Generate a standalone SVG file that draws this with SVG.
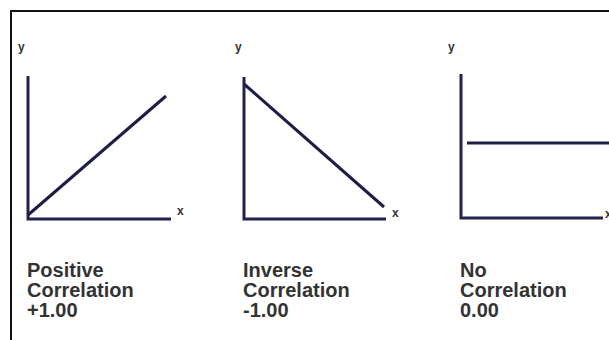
<svg xmlns="http://www.w3.org/2000/svg" width="609" height="340" viewBox="0 0 609 340">
<style>
.ax{stroke:#23234d;stroke-width:3;fill:none;stroke-linecap:butt}
.tr{stroke:#1d1d45;stroke-width:3;fill:none}
.lab{font-family:"Liberation Sans",Arial,sans-serif;font-weight:bold;font-size:12px;fill:#333333}
.cap{font-family:"Liberation Sans",Arial,sans-serif;font-weight:bold;font-size:20px;fill:#333333}
</style>
<rect x="0" y="0" width="609" height="340" fill="#ffffff"/>
<g id="frame">
<path d="M11 340 V11 H609" stroke="#111" stroke-width="2" fill="none"/>
</g>
<g id="positive">
<text class="lab" x="18" y="51">y</text>
<path class="ax" d="M28 76 V219 H171"/>
<path class="tr" d="M28 215 L166 96"/>
<text class="lab" x="177" y="215">x</text>
<text class="cap" x="27" y="277">Positive</text>
<text class="cap" x="27" y="297">Correlation</text>
<text class="cap" x="27" y="317">+1.00</text>
</g>
<g id="inverse">
<text class="lab" x="235" y="51">y</text>
<path class="ax" d="M244 77 V219 H386"/>
<path class="tr" d="M244 84 L384 207"/>
<text class="lab" x="392" y="217">x</text>
<text class="cap" x="243" y="277">Inverse</text>
<text class="cap" x="243" y="297">Correlation</text>
<text class="cap" x="243" y="317">-1.00</text>
</g>
<g id="none">
<text class="lab" x="448" y="51">y</text>
<path class="ax" d="M461 74 V218 H603"/>
<path class="tr" d="M467 143 H609"/>
<text class="lab" x="605" y="218">x</text>
<text class="cap" x="460" y="277">No</text>
<text class="cap" x="460" y="297">Correlation</text>
<text class="cap" x="460" y="317">0.00</text>
</g>
</svg>
